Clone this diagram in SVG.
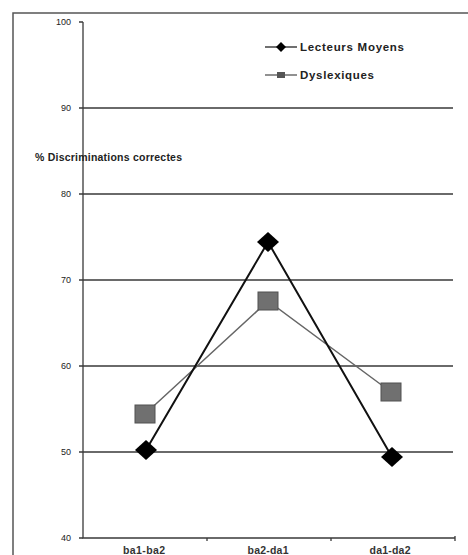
<svg xmlns="http://www.w3.org/2000/svg" width="468" height="555" viewBox="0 0 468 555">
<style>
.frame{fill:none;stroke:#555;stroke-width:1.5}
.grid{stroke:#3a3a3a;stroke-width:1.3;fill:none}
.tick{font-family:"Liberation Sans",Arial,sans-serif;font-size:9px;fill:#222;text-anchor:end}
.cat{font-family:"Liberation Sans",Arial,sans-serif;font-size:10.5px;font-weight:bold;fill:#333;text-anchor:middle}
.lbl{font-family:"Liberation Sans",Arial,sans-serif;font-weight:bold;fill:#222}
.lm{stroke:#111;stroke-width:2;fill:none}
.dy{stroke:#666;stroke-width:1.5;fill:none}
.dia{fill:#000}
.sq{fill:#707070;stroke:#505050;stroke-width:1}
</style>
<defs>
<path id="dm" d="M0,-10 L11,0 L0,10 L-11,0 Z" class="dia"/>
<rect id="sqr" x="-10" y="-9" width="20" height="18" class="sq"/>
</defs>
<rect width="468" height="555" fill="#fff"/>
<g id="frame">
<path class="frame" d="M13,560 L13,13 L470,13"/>
</g>
<g id="axes">
<path class="grid" d="M83,22 L83,538 L455,538"/>
<path class="grid" d="M79,22 L83,22 M79,108 L453,108 M79,194 L453,194 M79,280 L453,280 M79,366 L453,366 M79,452 L453,452 M79,538 L83,538"/>
<path class="grid" d="M207,538 L207,541 M331,538 L331,541 M455,536 L455,541"/>
<text class="tick" x="71" y="25">100</text>
<text class="tick" x="71" y="111">90</text>
<text class="tick" x="71" y="197">80</text>
<text class="tick" x="71" y="283">70</text>
<text class="tick" x="71" y="369">60</text>
<text class="tick" x="71" y="455">50</text>
<text class="tick" x="71" y="541">40</text>
<text class="cat" x="144" y="554" textLength="42">ba1-ba2</text>
<text class="cat" x="268" y="554" textLength="41">ba2-da1</text>
<text class="cat" x="390" y="554" textLength="41">da1-da2</text>
<text class="lbl" x="35" y="161" font-size="10.5" textLength="147">% Discriminations correctes</text>
</g>
<g id="connectors">
<polyline class="dy" points="145,414 268,301 391,392"/>
<polyline class="lm" points="146,450 268,242 392,457"/>
</g>
<g id="series-lecteurs">
<use href="#dm" x="146" y="450"/>
<use href="#dm" x="268" y="242"/>
<use href="#dm" x="392" y="457"/>
</g>
<g id="series-dyslexiques">
<use href="#sqr" x="145" y="414"/>
<use href="#sqr" x="268" y="301"/>
<use href="#sqr" x="391" y="392"/>
</g>
<g id="legend">
<line x1="265" y1="47" x2="297" y2="47" stroke="#222" stroke-width="1.3"/>
<path d="M281,42 L286,47 L281,52 L276,47 Z" fill="#000"/>
<text class="lbl" x="300" y="51" font-size="11.5" textLength="104">Lecteurs Moyens</text>
<line x1="265" y1="75" x2="297" y2="75" stroke="#555" stroke-width="1.3"/>
<rect x="277" y="72" width="8" height="6" fill="#555"/>
<text class="lbl" x="300" y="79" font-size="11.5" textLength="74">Dyslexiques</text>
</g>
</svg>
